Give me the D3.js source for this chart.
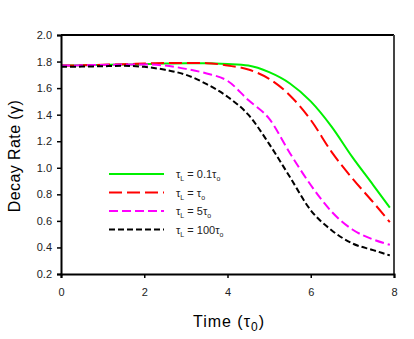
<!DOCTYPE html>
<html>
<head>
<meta charset="utf-8">
<script src="https://cdn.jsdelivr.net/npm/d3@7"></script>
<style>
  body { margin: 0; background: #fff; }
  text { font-family: "Liberation Sans", Arial, sans-serif; }
</style>
</head>
<body>
<div id="chart"></div>
<script>
// time values (units of tau_0)
var times = [0, 0.5, 1, 1.5, 2, 2.5, 3, 3.5, 4, 4.5, 5, 5.5, 6, 6.5, 7, 7.5, 7.9];

// decay rate for each lifetime
var green   = [1.77, 1.772, 1.775, 1.778, 1.78, 1.785, 1.788, 1.788, 1.782, 1.77, 1.72, 1.635, 1.50, 1.31, 1.08, 0.87, 0.70];
var red     = [1.77, 1.772, 1.776, 1.78, 1.785, 1.79, 1.79, 1.788, 1.77, 1.74, 1.67, 1.545, 1.36, 1.12, 0.92, 0.74, 0.59];
var magenta = [1.77, 1.772, 1.775, 1.778, 1.778, 1.77, 1.745, 1.71, 1.655, 1.51, 1.37, 1.11, 0.87, 0.67, 0.535, 0.46, 0.42];
var black   = [1.76, 1.762, 1.765, 1.768, 1.76, 1.738, 1.70, 1.63, 1.535, 1.40, 1.18, 0.93, 0.68, 0.53, 0.43, 0.38, 0.34];

var xTicks = [0, 2, 4, 6, 8];
var yTicks = [0.2, 0.4, 0.6, 0.8, 1.0, 1.2, 1.4, 1.6, 1.8, 2.0];
var legendLabels = [
  {sub: "L", mid: " = 0.1\u03c4"},
  {sub: "L", mid: " = \u03c4"},
  {sub: "L", mid: " = 5\u03c4"},
  {sub: "L", mid: " = 100\u03c4"}
];

var series = [
  {values: green,   color: "#00f000", dash: null},
  {values: red,     color: "#ff0000", dash: "13,5"},
  {values: magenta, color: "#ff00ff", dash: "9,4"},
  {values: black,   color: "#000000", dash: "6,3"}
];

var W = 414, H = 339;
var margin = {top: 35, right: 20, bottom: 65, left: 61};
var width = 394 - margin.left,
    height = 274 - margin.top;

var svg = d3.select("#chart")
  .append("svg")
    .attr("width", W)
    .attr("height", H)
  .append("g")
    .attr("transform", "translate(" + margin.left + "," + margin.top + ")");

var x = d3.scaleLinear().domain([0, 8]).range([0, width]);
var y = d3.scaleLinear().domain([0.2, 2.0]).range([height, 0]);

// frame top + right
svg.append("line")
  .attr("x1", 0).attr("x2", width).attr("y1", 0).attr("y2", 0)
  .attr("stroke", "#000").attr("stroke-width", 2);
svg.append("line")
  .attr("x1", width).attr("x2", width).attr("y1", 0).attr("y2", height)
  .attr("stroke", "#444").attr("stroke-width", 2);

// curves
var line = d3.line()
  .x(function(d) { return x(d[0]); })
  .y(function(d) { return y(d[1]); })
  .curve(d3.curveMonotoneX);

series.forEach(function(s) {
  svg.append("path")
    .datum(times.map(function(t, i) { return [t, s.values[i]]; }))
    .attr("fill", "none")
    .attr("stroke", s.color)
    .attr("stroke-width", 2)
    .attr("stroke-dasharray", s.dash)
    .attr("d", line);
});

// axes
var xAxis = svg.append("g")
  .attr("transform", "translate(0," + height + ")")
  .call(d3.axisBottom(x).tickValues(xTicks).tickFormat(d3.format("d")).tickSize(4).tickPadding(10));
var yAxis = svg.append("g")
  .call(d3.axisLeft(y).tickValues(yTicks).tickFormat(d3.format(".1f")).tickSize(4).tickPadding(5));

[xAxis, yAxis].forEach(function(a) {
  a.select(".domain").attr("stroke", "#000").attr("stroke-width", 2);
  a.selectAll(".tick line").attr("stroke", "#000").attr("stroke-width", 1.5);
  a.selectAll(".tick text")
    .attr("fill", "#222")
    .style("font-family", "'Liberation Sans', Arial, sans-serif")
    .style("font-size", "11px");
});

// axis titles
svg.append("text")
  .attr("transform", "translate(" + (20 - margin.left) + "," + (156 - margin.top) + ") rotate(-90)")
  .attr("text-anchor", "middle")
  .style("font-size", "16px")
  .style("letter-spacing", "0.4px")
  .text("Decay Rate (\u03b3)");

var xt = svg.append("text")
  .attr("x", 229 - margin.left)
  .attr("y", 327 - margin.top)
  .attr("text-anchor", "middle")
  .style("font-size", "16px")
  .style("letter-spacing", "1px");
xt.append("tspan").text("Time (\u03c4");
xt.append("tspan").attr("dy", 4).style("font-size", "12px").text("0");
xt.append("tspan").attr("dy", -4).text(")");

// legend
var legendY = [174, 192.5, 211, 229.5];
series.forEach(function(s, i) {
  var ly = legendY[i] - margin.top;
  svg.append("line")
    .attr("x1", 109 - margin.left).attr("x2", 164 - margin.left)
    .attr("y1", ly).attr("y2", ly)
    .attr("stroke", s.color)
    .attr("stroke-width", 2)
    .attr("stroke-dasharray", s.dash);
  var t = svg.append("text")
    .attr("x", 176 - margin.left)
    .attr("y", ly + 4)
    .attr("fill", "#222")
    .style("font-size", "11px");
  t.append("tspan").text("\u03c4");
  t.append("tspan").attr("dy", 3).style("font-size", "7px").text(legendLabels[i].sub);
  t.append("tspan").attr("dy", -3).text(legendLabels[i].mid);
  t.append("tspan").attr("dy", 3).style("font-size", "7px").text("o");
});
</script>
</body>
</html>
